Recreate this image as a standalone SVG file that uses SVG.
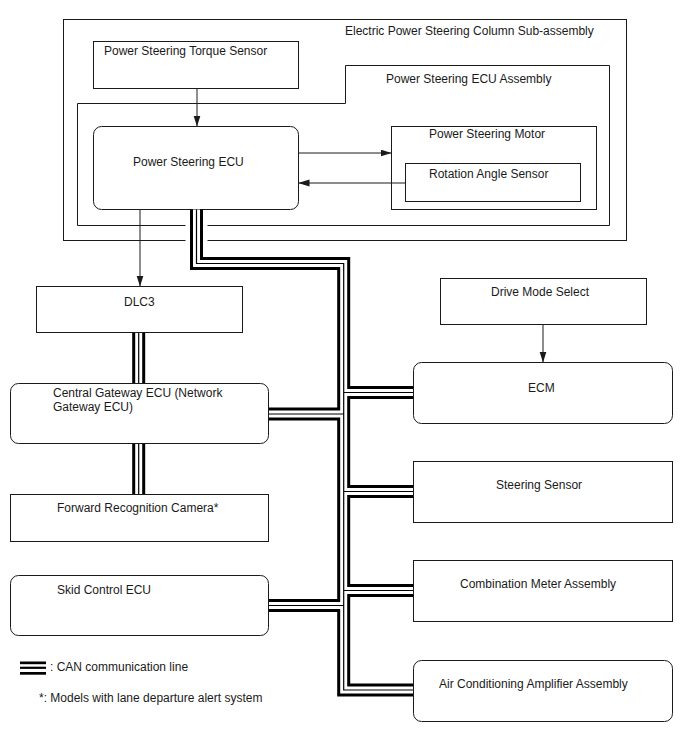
<svg xmlns="http://www.w3.org/2000/svg" width="688" height="755" viewBox="0 0 688 755">
<style>
  .box { fill: #ffffff; stroke: #1a1a1a; stroke-width: 1; }
  .cont { fill: none; stroke: #1a1a1a; stroke-width: 1; }
  .t { font-family: "Liberation Sans", Arial, sans-serif; font-size: 12px; fill: #1a1a1a; }
  .arrow { fill: none; stroke: #1a1a1a; stroke-width: 1; marker-end: url(#ah); }
  .busO { fill: none; stroke: #000; stroke-width: 13; stroke-linejoin: miter; stroke-linecap: butt; }
  .busW { fill: none; stroke: #fff; stroke-width: 7; stroke-linejoin: miter; stroke-linecap: butt; }
  .busC { fill: none; stroke: #000; stroke-width: 1.2; stroke-linejoin: miter; stroke-linecap: butt; }
</style>
<defs>
  <marker id="ah" markerUnits="userSpaceOnUse" markerWidth="11" markerHeight="8" refX="11" refY="3.5" orient="auto">
    <path d="M0,0 L11,3.5 L0,7 Z" fill="#1a1a1a"/>
  </marker>
</defs>
<rect width="688" height="755" fill="#ffffff"/>

<g id="column-subassembly">
  <rect class="cont" x="63.5" y="19.5" width="563" height="221"/>
  <text class="t" x="345" y="34.5">Electric Power Steering Column Sub-assembly</text>
</g>
<g id="ecu-assembly">
  <path class="cont" d="M77.5,103.5 H345.5 V65.5 H609.5 V225.5 H77.5 Z"/>
  <text class="t" x="386" y="83">Power Steering ECU Assembly</text>
</g>
<g id="torque-sensor">
  <rect class="box" x="93.5" y="41.5" width="205" height="47"/>
  <text class="t" x="104" y="55">Power Steering Torque Sensor</text>
</g>
<g id="ps-ecu">
  <rect class="box" x="93.5" y="126.5" width="205" height="83" rx="8"/>
  <text class="t" x="133" y="166">Power Steering ECU</text>
</g>
<g id="ps-motor">
  <rect class="box" x="391.5" y="126.5" width="205" height="83"/>
  <text class="t" x="429" y="138">Power Steering Motor</text>
</g>
<g id="rotation-sensor">
  <rect class="box" x="405.5" y="163.5" width="175" height="38"/>
  <text class="t" x="429" y="178">Rotation Angle Sensor</text>
</g>

<g id="connectors">
  <line x1="196.5" y1="216" x2="196.5" y2="248" stroke="#fff" stroke-width="22"/>
  <g id="can-bus">
    <path class="busO" d="M196.5,209.5 V263.5 H343.7 V690 H413.5"/>
    <path class="busO" d="M268.5,414 H343.7"/>
    <path class="busO" d="M343.7,392.5 H413.5"/>
    <path class="busO" d="M343.7,491.5 H413.5"/>
    <path class="busO" d="M343.7,590.5 H413.5"/>
    <path class="busO" d="M268.5,605.5 H343.7"/>
    <path class="busO" d="M138.7,332.5 V383.5"/>
    <path class="busO" d="M138.7,443.5 V494.5"/>

    <path class="busW" d="M196.5,209.5 V263.5 H343.7 V690 H413.5"/>
    <path class="busW" d="M268.5,414 H343.7"/>
    <path class="busW" d="M343.7,392.5 H413.5"/>
    <path class="busW" d="M343.7,491.5 H413.5"/>
    <path class="busW" d="M343.7,590.5 H413.5"/>
    <path class="busW" d="M268.5,605.5 H343.7"/>
    <path class="busW" d="M138.7,332.5 V383.5"/>
    <path class="busW" d="M138.7,443.5 V494.5"/>

    <path class="busC" d="M196.5,209.5 V263.5 H343.7 V690 H413.5"/>
    <path class="busC" d="M268.5,414 H343.7"/>
    <path class="busC" d="M343.7,392.5 H413.5"/>
    <path class="busC" d="M343.7,491.5 H413.5"/>
    <path class="busC" d="M343.7,590.5 H413.5"/>
    <path class="busC" d="M268.5,605.5 H343.7"/>
    <path class="busC" d="M138.7,332.5 V383.5"/>
    <path class="busC" d="M138.7,443.5 V494.5"/>
  </g>
  <line class="arrow" x1="197" y1="88.5" x2="197" y2="126.5"/>
  <line class="arrow" x1="298.5" y1="153" x2="391.5" y2="153"/>
  <line class="arrow" x1="405.5" y1="183" x2="298.5" y2="183"/>
  <line class="arrow" x1="140" y1="209.5" x2="140" y2="286.5"/>
  <line class="arrow" x1="543" y1="324.5" x2="543" y2="362.5"/>
</g>

<g id="dlc3">
  <rect class="box" x="36.5" y="286.5" width="206" height="46"/>
  <text class="t" x="124" y="306">DLC3</text>
</g>
<g id="central-gateway">
  <rect class="box" x="10.5" y="383.5" width="258" height="60" rx="8"/>
  <text class="t" x="53" y="397">Central Gateway ECU (Network</text>
  <text class="t" x="53" y="411">Gateway ECU)</text>
</g>
<g id="forward-camera">
  <rect class="box" x="10.5" y="494.5" width="258" height="47"/>
  <text class="t" x="57" y="512">Forward Recognition Camera*</text>
</g>
<g id="skid-control">
  <rect class="box" x="10.5" y="575.5" width="258" height="60" rx="8"/>
  <text class="t" x="57" y="594">Skid Control ECU</text>
</g>
<g id="drive-mode-select">
  <rect class="box" x="440.5" y="278.5" width="206" height="46"/>
  <text class="t" x="491" y="296">Drive Mode Select</text>
</g>
<g id="ecm">
  <rect class="box" x="413.5" y="362.5" width="259" height="61" rx="8"/>
  <text class="t" x="528" y="391.5">ECM</text>
</g>
<g id="steering-sensor">
  <rect class="box" x="413.5" y="461.5" width="259" height="61"/>
  <text class="t" x="496" y="489">Steering Sensor</text>
</g>
<g id="combination-meter">
  <rect class="box" x="413.5" y="560.5" width="259" height="61"/>
  <text class="t" x="460" y="588">Combination Meter Assembly</text>
</g>
<g id="air-conditioning">
  <rect class="box" x="413.5" y="660.5" width="259" height="61" rx="8"/>
  <text class="t" x="439" y="688">Air Conditioning Amplifier Assembly</text>
</g>

<g id="legend">
  <rect x="20" y="661.5" width="26" height="2.7" fill="#000"/>
  <rect x="20" y="666.7" width="26" height="2.2" fill="#000"/>
  <rect x="20" y="672" width="26" height="2.7" fill="#000"/>
  <text class="t" x="50" y="671">: CAN communication line</text>
  <text class="t" x="39" y="702">*: Models with lane departure alert system</text>
</g>
</svg>
